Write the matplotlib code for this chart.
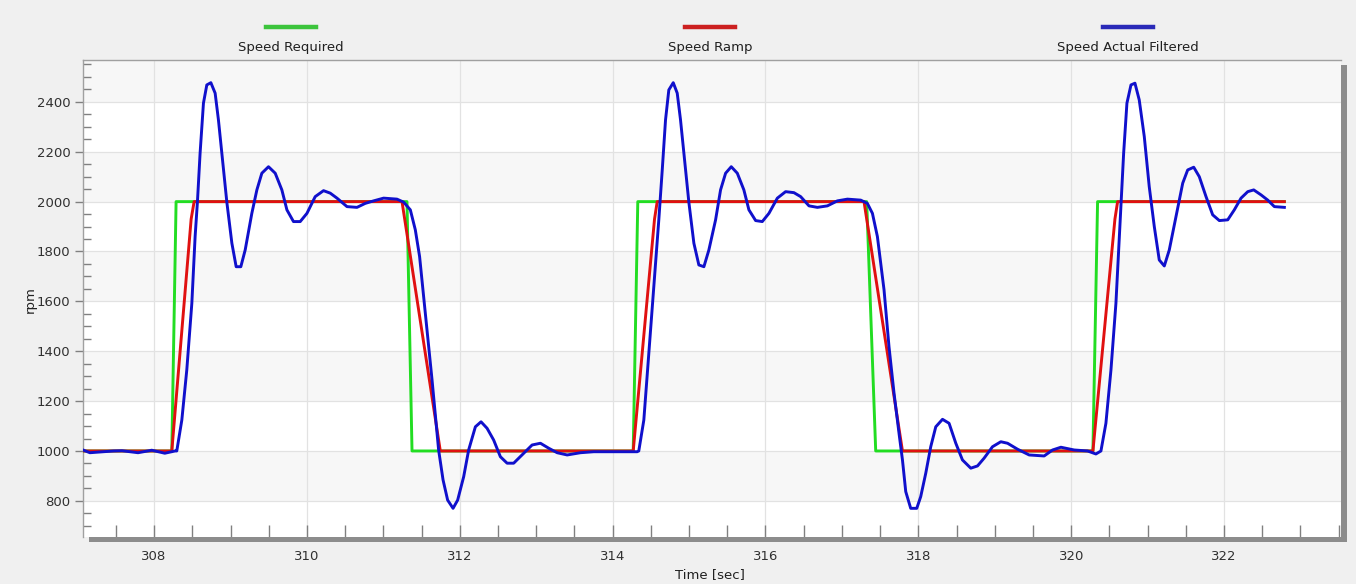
import matplotlib
matplotlib.use("Agg")
import matplotlib.pyplot as plt
from matplotlib.lines import Line2D
from matplotlib.patches import Rectangle
from matplotlib.ticker import MultipleLocator

W, H = 1356, 584

# Speed Required (setpoint steps)
req_t = [307.07, 308.232, 308.288, 311.309, 311.375, 314.269, 314.329,
         317.324, 317.442, 320.284, 320.345, 322.789]
req_rpm = [1000, 1000, 2000, 2000, 1000, 1000, 2000, 2000, 1000, 1000, 2000, 2000]

# Speed Ramp
ramp_t = [307.07, 308.232, 308.485, 308.524, 311.244, 311.745, 314.269, 314.548,
          314.583, 317.289, 317.792, 320.284, 320.572, 320.607, 322.789]
ramp_rpm = [1000, 1000, 1930, 2000, 2000, 1000, 1000, 1930, 2000, 2000, 1000,
            1000, 1930, 2000, 2000]

# Speed Actual Filtered
act_t = [307.07, 307.16, 307.47, 307.58, 307.79, 307.97, 308.14, 308.275,
         308.297, 308.363, 308.428, 308.494, 308.537, 308.567, 308.602, 308.646,
         308.690, 308.743, 308.799, 308.842, 308.887, 308.952, 309.018, 309.074,
         309.135, 309.192, 309.279, 309.345, 309.410, 309.497, 309.585, 309.672,
         309.738, 309.824, 309.912, 310.000, 310.108, 310.217, 310.305, 310.393,
         310.524, 310.655, 310.763, 310.872, 311.003, 311.178, 311.265, 311.353,
         311.418, 311.474, 311.549, 311.637, 311.723, 311.781, 311.841, 311.912,
         311.972, 312.051, 312.116, 312.204, 312.278, 312.357, 312.443, 312.531,
         312.619, 312.705, 312.836, 312.946, 313.055, 313.164, 313.274, 313.405,
         313.579, 313.753, 314.015, 314.321, 314.342,
         314.408, 314.473, 314.539, 314.604, 314.649, 314.692, 314.735, 314.793,
         314.845, 314.888, 314.941, 314.997, 315.063, 315.128, 315.194, 315.259,
         315.347, 315.412, 315.478, 315.552, 315.631, 315.717, 315.783, 315.871,
         315.958, 316.045, 316.155, 316.263, 316.372, 316.460, 316.569, 316.679,
         316.810, 316.940, 317.072, 317.246, 317.333, 317.399, 317.464, 317.508,
         317.551, 317.616, 317.682, 317.747, 317.792, 317.835, 317.900, 317.979,
         318.031, 318.097, 318.162, 318.228, 318.316, 318.402, 318.490, 318.577,
         318.686, 318.774, 318.860, 318.970, 319.079, 319.167, 319.298, 319.450,
         319.646, 319.756, 319.865, 320.039, 320.214, 320.323, 320.389,
         320.454, 320.520, 320.585, 320.641, 320.686, 320.729, 320.782, 320.834,
         320.890, 320.956, 321.021, 321.087, 321.152, 321.218, 321.283, 321.371,
         321.459, 321.524, 321.603, 321.676, 321.764, 321.851, 321.938, 322.048,
         322.134, 322.222, 322.310, 322.388, 322.484, 322.572, 322.658, 322.789]
act_rpm = [1004, 993, 1000, 1001, 993, 1003, 991, 1000,
           1000, 1124, 1325, 1592, 1860, 1998, 2194, 2395,
           2468, 2477, 2435, 2328, 2194, 1998, 1833, 1739,
           1739, 1806, 1953, 2047, 2114, 2140, 2114, 2047,
           1967, 1920, 1920, 1953, 2020, 2044, 2034, 2014,
           1980, 1977, 1993, 2003, 2014, 2010, 1998, 1967,
           1887, 1780, 1552, 1285, 1004, 884, 803, 770,
           803, 897, 1004, 1097, 1117, 1091, 1044, 977,
           951, 951, 991, 1024, 1031, 1011, 993, 984,
           993, 997, 997, 997, 1000,
           1124, 1392, 1659, 1927, 2127, 2328, 2448, 2477,
           2435, 2328, 2167, 1998, 1833, 1746, 1739, 1806,
           1927, 2047, 2114, 2140, 2114, 2047, 1967, 1924,
           1920, 1953, 2014, 2040, 2036, 2020, 1983, 1977,
           1983, 2003, 2010, 2006, 1993, 1953, 1860, 1753,
           1646, 1418, 1231, 1071, 964, 837, 770, 770,
           817, 911, 1017, 1097, 1127, 1111, 1031, 964,
           931, 940, 971, 1017, 1037, 1031, 1007, 984,
           980, 1004, 1015, 1004, 1000, 988, 1000,
           1111, 1325, 1592, 1927, 2194, 2395, 2468, 2475,
           2408, 2261, 2060, 1900, 1766, 1742, 1806, 1940,
           2074, 2127, 2138, 2100, 2020, 1947, 1924, 1927,
           1967, 2014, 2040, 2047, 2027, 2006, 1980, 1977]

SERIES = [("Speed Required", req_t, req_rpm, "#22dd22", "#3cc43c", 291),
          ("Speed Ramp", ramp_t, ramp_rpm, "#e01010", "#cc2020", 710),
          ("Speed Actual Filtered", act_t, act_rpm, "#1010cc", "#2a2ab8", 1128)]

FONT = ["DejaVu Sans"]

fig = plt.figure(figsize=(W / 100, H / 100), dpi=100, facecolor="#f0f0f0")
ax = fig.add_axes([83 / W, 1 - 537 / H, (1341 - 83) / W, (537 - 60) / H])
ax.set_facecolor("white")

for name, t, v, color, _, _ in SERIES:
    ax.plot(t, v, color=color, lw=2.1, solid_joinstyle="round", zorder=3)

ax.set_xlim(307.07, 323.53)
ax.set_ylim(655, 2568)

# alternating bands + grid
for lo in range(800, 2600, 400):
    ax.axhspan(lo, lo + 200, color="#f7f7f7", zorder=0, lw=0)
ax.xaxis.set_major_locator(MultipleLocator(2))
ax.xaxis.set_minor_locator(MultipleLocator(0.5))
ax.yaxis.set_major_locator(MultipleLocator(200))
ax.yaxis.set_minor_locator(MultipleLocator(50))
ax.grid(True, which="major", color="#e2e2e2", lw=0.9, zorder=1)
ax.set_axisbelow(True)

ax.tick_params(axis="x", which="both", direction="in", length=9, width=1,
               color="#808080", labelsize=9.5, labelcolor="#303030", pad=9)
ax.tick_params(axis="y", which="major", direction="out", length=6, width=1,
               color="#808080", labelsize=9.5, labelcolor="#303030", pad=3)
ax.tick_params(axis="y", which="minor", direction="in", length=6, width=1,
               color="#808080")
for lab in ax.get_xticklabels() + ax.get_yticklabels():
    lab.set_family(FONT)

for side in ("left", "top"):
    ax.spines[side].set_color("#a0a0a0")
    ax.spines[side].set_linewidth(1)
for side in ("bottom", "right"):
    ax.spines[side].set_visible(False)

# shadow frame (bottom / right)
fig.add_artist(Rectangle((89 / W, 1 - 542 / H), (1347 - 89) / W, 5 / H,
                         transform=fig.transFigure, color="#8c8c8c", lw=0))
fig.add_artist(Rectangle((1341 / W, 1 - 542 / H), 6 / W, (542 - 65) / H,
                         transform=fig.transFigure, color="#8c8c8c", lw=0))

# legend on top: line sample over label
for name, _, _, _, lcolor, cx in SERIES:
    fig.add_artist(Line2D([(cx - 25) / W, (cx + 25) / W], [1 - 27 / H, 1 - 27 / H],
                          transform=fig.transFigure, color=lcolor, lw=3.2))
    fig.text(cx / W, 1 - 47 / H, name, ha="center", va="center",
             fontsize=9.5, color="#202020", family=FONT)

fig.text(30 / W, 1 - 300 / H, "rpm", rotation=90, ha="center", va="center",
         fontsize=9.5, color="#202020", family=FONT)
fig.text(710 / W, 1 - 575 / H, "Time [sec]", ha="center", va="center",
         fontsize=9.5, color="#202020", family=FONT)

fig.savefig("out.png", dpi=100, facecolor=fig.get_facecolor())
